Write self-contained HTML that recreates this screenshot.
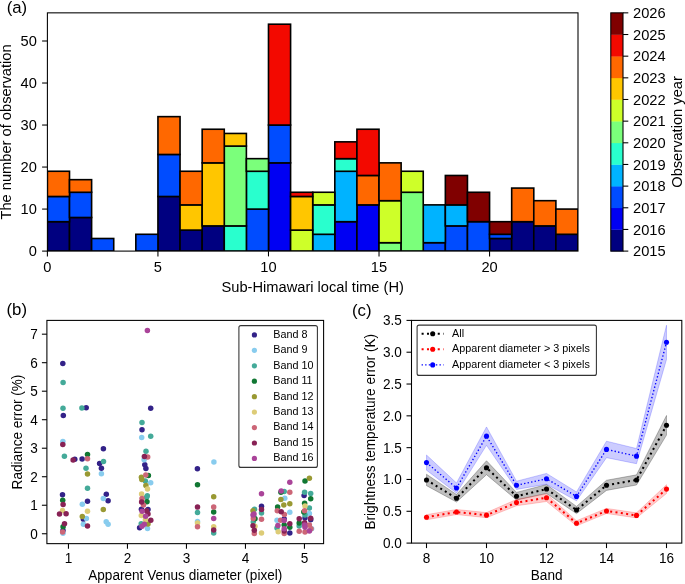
<!DOCTYPE html>
<html><head><meta charset="utf-8"><title>Figure</title>
<style>
html,body{margin:0;padding:0;background:#fff;overflow:hidden;}
svg{display:block;will-change:transform;}
text{font-family:"Liberation Sans", sans-serif;fill:#000;}
</style></head>
<body>
<svg width="685" height="584" viewBox="0 0 685 584">
<rect x="0" y="0" width="685" height="584" fill="#fff"/>
<clipPath id="clipa"><rect x="47.4" y="10.85" width="530.6" height="240.25"/></clipPath>
<g clip-path="url(#clipa)">
<rect x="47.4" y="221.69" width="22.11" height="29.41" fill="#000080" stroke="#000" stroke-width="1.6"/>
<rect x="69.51" y="217.48" width="22.11" height="33.62" fill="#000080" stroke="#000" stroke-width="1.6"/>
<rect x="157.94" y="196.47" width="22.11" height="54.63" fill="#000080" stroke="#000" stroke-width="1.6"/>
<rect x="180.05" y="230.09" width="22.11" height="21.01" fill="#000080" stroke="#000" stroke-width="1.6"/>
<rect x="202.16" y="225.89" width="22.11" height="25.21" fill="#000080" stroke="#000" stroke-width="1.6"/>
<rect x="489.57" y="238.49" width="22.11" height="12.61" fill="#000080" stroke="#000" stroke-width="1.6"/>
<rect x="511.68" y="221.69" width="22.11" height="29.41" fill="#000080" stroke="#000" stroke-width="1.6"/>
<rect x="533.78" y="225.89" width="22.11" height="25.21" fill="#000080" stroke="#000" stroke-width="1.6"/>
<rect x="555.89" y="234.29" width="22.11" height="16.81" fill="#000080" stroke="#000" stroke-width="1.6"/>
<rect x="268.48" y="162.86" width="22.11" height="88.24" fill="#0000f3" stroke="#000" stroke-width="1.6"/>
<rect x="334.81" y="221.69" width="22.11" height="29.41" fill="#0000f3" stroke="#000" stroke-width="1.6"/>
<rect x="356.92" y="204.88" width="22.11" height="46.22" fill="#0000f3" stroke="#000" stroke-width="1.6"/>
<rect x="47.4" y="196.47" width="22.11" height="25.21" fill="#004cff" stroke="#000" stroke-width="1.6"/>
<rect x="69.51" y="192.27" width="22.11" height="25.21" fill="#004cff" stroke="#000" stroke-width="1.6"/>
<rect x="91.62" y="238.49" width="22.11" height="12.61" fill="#004cff" stroke="#000" stroke-width="1.6"/>
<rect x="135.83" y="234.29" width="22.11" height="16.81" fill="#004cff" stroke="#000" stroke-width="1.6"/>
<rect x="157.94" y="154.46" width="22.11" height="42.02" fill="#004cff" stroke="#000" stroke-width="1.6"/>
<rect x="246.38" y="209.08" width="22.11" height="42.02" fill="#004cff" stroke="#000" stroke-width="1.6"/>
<rect x="268.48" y="125.04" width="22.11" height="37.82" fill="#004cff" stroke="#000" stroke-width="1.6"/>
<rect x="423.24" y="242.7" width="22.11" height="8.4" fill="#004cff" stroke="#000" stroke-width="1.6"/>
<rect x="445.35" y="225.89" width="22.11" height="25.21" fill="#004cff" stroke="#000" stroke-width="1.6"/>
<rect x="467.46" y="221.69" width="22.11" height="29.41" fill="#004cff" stroke="#000" stroke-width="1.6"/>
<rect x="489.57" y="234.29" width="22.11" height="4.2" fill="#004cff" stroke="#000" stroke-width="1.6"/>
<rect x="312.7" y="234.29" width="22.11" height="16.81" fill="#00b3ff" stroke="#000" stroke-width="1.6"/>
<rect x="334.81" y="171.26" width="22.11" height="50.42" fill="#00b3ff" stroke="#000" stroke-width="1.6"/>
<rect x="423.24" y="204.88" width="22.11" height="37.82" fill="#00b3ff" stroke="#000" stroke-width="1.6"/>
<rect x="445.35" y="204.88" width="22.11" height="21.01" fill="#00b3ff" stroke="#000" stroke-width="1.6"/>
<rect x="224.27" y="225.89" width="22.11" height="25.21" fill="#29ffce" stroke="#000" stroke-width="1.6"/>
<rect x="246.38" y="171.26" width="22.11" height="37.82" fill="#29ffce" stroke="#000" stroke-width="1.6"/>
<rect x="312.7" y="204.88" width="22.11" height="29.41" fill="#29ffce" stroke="#000" stroke-width="1.6"/>
<rect x="334.81" y="158.66" width="22.11" height="12.61" fill="#29ffce" stroke="#000" stroke-width="1.6"/>
<rect x="224.27" y="146.05" width="22.11" height="79.84" fill="#7bff7b" stroke="#000" stroke-width="1.6"/>
<rect x="246.38" y="158.66" width="22.11" height="12.61" fill="#7bff7b" stroke="#000" stroke-width="1.6"/>
<rect x="379.02" y="242.7" width="22.11" height="8.4" fill="#7bff7b" stroke="#000" stroke-width="1.6"/>
<rect x="401.13" y="192.27" width="22.11" height="58.83" fill="#7bff7b" stroke="#000" stroke-width="1.6"/>
<rect x="290.59" y="230.09" width="22.11" height="21.01" fill="#ceff29" stroke="#000" stroke-width="1.6"/>
<rect x="312.7" y="192.27" width="22.11" height="12.61" fill="#ceff29" stroke="#000" stroke-width="1.6"/>
<rect x="379.02" y="200.68" width="22.11" height="42.02" fill="#ceff29" stroke="#000" stroke-width="1.6"/>
<rect x="401.13" y="171.26" width="22.11" height="21.01" fill="#ceff29" stroke="#000" stroke-width="1.6"/>
<rect x="180.05" y="204.88" width="22.11" height="25.21" fill="#ffc600" stroke="#000" stroke-width="1.6"/>
<rect x="202.16" y="162.86" width="22.11" height="63.03" fill="#ffc600" stroke="#000" stroke-width="1.6"/>
<rect x="224.27" y="133.45" width="22.11" height="12.61" fill="#ffc600" stroke="#000" stroke-width="1.6"/>
<rect x="290.59" y="196.47" width="22.11" height="33.62" fill="#ffc600" stroke="#000" stroke-width="1.6"/>
<rect x="47.4" y="171.26" width="22.11" height="25.21" fill="#ff6800" stroke="#000" stroke-width="1.6"/>
<rect x="69.51" y="179.67" width="22.11" height="12.61" fill="#ff6800" stroke="#000" stroke-width="1.6"/>
<rect x="157.94" y="116.64" width="22.11" height="37.82" fill="#ff6800" stroke="#000" stroke-width="1.6"/>
<rect x="180.05" y="171.26" width="22.11" height="33.62" fill="#ff6800" stroke="#000" stroke-width="1.6"/>
<rect x="202.16" y="129.24" width="22.11" height="33.62" fill="#ff6800" stroke="#000" stroke-width="1.6"/>
<rect x="356.92" y="175.47" width="22.11" height="29.41" fill="#ff6800" stroke="#000" stroke-width="1.6"/>
<rect x="379.02" y="162.86" width="22.11" height="37.82" fill="#ff6800" stroke="#000" stroke-width="1.6"/>
<rect x="511.68" y="188.07" width="22.11" height="33.62" fill="#ff6800" stroke="#000" stroke-width="1.6"/>
<rect x="533.78" y="200.68" width="22.11" height="25.21" fill="#ff6800" stroke="#000" stroke-width="1.6"/>
<rect x="555.89" y="209.08" width="22.11" height="25.21" fill="#ff6800" stroke="#000" stroke-width="1.6"/>
<rect x="268.48" y="24.2" width="22.11" height="100.85" fill="#f30900" stroke="#000" stroke-width="1.6"/>
<rect x="290.59" y="192.27" width="22.11" height="4.2" fill="#f30900" stroke="#000" stroke-width="1.6"/>
<rect x="334.81" y="141.85" width="22.11" height="16.81" fill="#f30900" stroke="#000" stroke-width="1.6"/>
<rect x="356.92" y="129.24" width="22.11" height="46.22" fill="#f30900" stroke="#000" stroke-width="1.6"/>
<rect x="445.35" y="175.47" width="22.11" height="29.41" fill="#800000" stroke="#000" stroke-width="1.6"/>
<rect x="467.46" y="192.27" width="22.11" height="29.41" fill="#800000" stroke="#000" stroke-width="1.6"/>
<rect x="489.57" y="221.69" width="22.11" height="12.61" fill="#800000" stroke="#000" stroke-width="1.6"/>
</g>
<rect x="47.4" y="12.85" width="530.6" height="238.25" fill="none" stroke="#000" stroke-width="1.07"/>
<line x1="47.4" y1="251.1" x2="47.4" y2="256.4" stroke="#000" stroke-width="1.07"/>
<text transform="translate(47.4,271.9) scale(1,1.045)" font-size="14.67" text-anchor="middle">0</text>
<line x1="157.94" y1="251.1" x2="157.94" y2="256.4" stroke="#000" stroke-width="1.07"/>
<text transform="translate(157.94,271.9) scale(1,1.045)" font-size="14.67" text-anchor="middle">5</text>
<line x1="268.48" y1="251.1" x2="268.48" y2="256.4" stroke="#000" stroke-width="1.07"/>
<text transform="translate(268.48,271.9) scale(1,1.045)" font-size="14.67" text-anchor="middle">10</text>
<line x1="379.02" y1="251.1" x2="379.02" y2="256.4" stroke="#000" stroke-width="1.07"/>
<text transform="translate(379.02,271.9) scale(1,1.045)" font-size="14.67" text-anchor="middle">15</text>
<line x1="489.57" y1="251.1" x2="489.57" y2="256.4" stroke="#000" stroke-width="1.07"/>
<text transform="translate(489.57,271.9) scale(1,1.045)" font-size="14.67" text-anchor="middle">20</text>
<line x1="42.1" y1="251.1" x2="47.4" y2="251.1" stroke="#000" stroke-width="1.07"/>
<text transform="translate(36.8,256.3) scale(1,1.045)" font-size="14.67" text-anchor="end">0</text>
<line x1="42.1" y1="209.08" x2="47.4" y2="209.08" stroke="#000" stroke-width="1.07"/>
<text transform="translate(36.8,214.28) scale(1,1.045)" font-size="14.67" text-anchor="end">10</text>
<line x1="42.1" y1="167.06" x2="47.4" y2="167.06" stroke="#000" stroke-width="1.07"/>
<text transform="translate(36.8,172.26) scale(1,1.045)" font-size="14.67" text-anchor="end">20</text>
<line x1="42.1" y1="125.04" x2="47.4" y2="125.04" stroke="#000" stroke-width="1.07"/>
<text transform="translate(36.8,130.24) scale(1,1.045)" font-size="14.67" text-anchor="end">30</text>
<line x1="42.1" y1="83.02" x2="47.4" y2="83.02" stroke="#000" stroke-width="1.07"/>
<text transform="translate(36.8,88.22) scale(1,1.045)" font-size="14.67" text-anchor="end">40</text>
<line x1="42.1" y1="41" x2="47.4" y2="41" stroke="#000" stroke-width="1.07"/>
<text transform="translate(36.8,46.2) scale(1,1.045)" font-size="14.67" text-anchor="end">50</text>
<text transform="translate(312.7,291.7) scale(1,1.015)" font-size="14.67" text-anchor="middle">Sub-Himawari local time (H)</text>
<text transform="translate(11.4,131.97) rotate(-90) scale(1,1.015)" font-size="14.67" text-anchor="middle">The number of observation</text>
<text transform="translate(6.7,12.9) scale(1,0.97)" font-size="16.8" text-anchor="start">(a)</text>
<rect x="610.8" y="229.44" width="12.2" height="21.96" fill="#000080"/>
<rect x="610.8" y="207.78" width="12.2" height="21.96" fill="#0000f3"/>
<rect x="610.8" y="186.12" width="12.2" height="21.96" fill="#004cff"/>
<rect x="610.8" y="164.46" width="12.2" height="21.96" fill="#00b3ff"/>
<rect x="610.8" y="142.8" width="12.2" height="21.96" fill="#29ffce"/>
<rect x="610.8" y="121.15" width="12.2" height="21.96" fill="#7bff7b"/>
<rect x="610.8" y="99.49" width="12.2" height="21.96" fill="#ceff29"/>
<rect x="610.8" y="77.83" width="12.2" height="21.96" fill="#ffc600"/>
<rect x="610.8" y="56.17" width="12.2" height="21.96" fill="#ff6800"/>
<rect x="610.8" y="34.51" width="12.2" height="21.96" fill="#f30900"/>
<rect x="610.8" y="12.85" width="12.2" height="21.96" fill="#800000"/>
<rect x="610.8" y="12.85" width="12.2" height="238.25" fill="none" stroke="#000" stroke-width="1.07"/>
<line x1="623" y1="251.1" x2="628.3" y2="251.1" stroke="#000" stroke-width="1.07"/>
<text transform="translate(633,256.3) scale(1,1.045)" font-size="14.67" text-anchor="start">2015</text>
<line x1="623" y1="229.44" x2="628.3" y2="229.44" stroke="#000" stroke-width="1.07"/>
<text transform="translate(633,234.64) scale(1,1.045)" font-size="14.67" text-anchor="start">2016</text>
<line x1="623" y1="207.78" x2="628.3" y2="207.78" stroke="#000" stroke-width="1.07"/>
<text transform="translate(633,212.98) scale(1,1.045)" font-size="14.67" text-anchor="start">2017</text>
<line x1="623" y1="186.12" x2="628.3" y2="186.12" stroke="#000" stroke-width="1.07"/>
<text transform="translate(633,191.32) scale(1,1.045)" font-size="14.67" text-anchor="start">2018</text>
<line x1="623" y1="164.46" x2="628.3" y2="164.46" stroke="#000" stroke-width="1.07"/>
<text transform="translate(633,169.66) scale(1,1.045)" font-size="14.67" text-anchor="start">2019</text>
<line x1="623" y1="142.8" x2="628.3" y2="142.8" stroke="#000" stroke-width="1.07"/>
<text transform="translate(633,148) scale(1,1.045)" font-size="14.67" text-anchor="start">2020</text>
<line x1="623" y1="121.15" x2="628.3" y2="121.15" stroke="#000" stroke-width="1.07"/>
<text transform="translate(633,126.35) scale(1,1.045)" font-size="14.67" text-anchor="start">2021</text>
<line x1="623" y1="99.49" x2="628.3" y2="99.49" stroke="#000" stroke-width="1.07"/>
<text transform="translate(633,104.69) scale(1,1.045)" font-size="14.67" text-anchor="start">2022</text>
<line x1="623" y1="77.83" x2="628.3" y2="77.83" stroke="#000" stroke-width="1.07"/>
<text transform="translate(633,83.03) scale(1,1.045)" font-size="14.67" text-anchor="start">2023</text>
<line x1="623" y1="56.17" x2="628.3" y2="56.17" stroke="#000" stroke-width="1.07"/>
<text transform="translate(633,61.37) scale(1,1.045)" font-size="14.67" text-anchor="start">2024</text>
<line x1="623" y1="34.51" x2="628.3" y2="34.51" stroke="#000" stroke-width="1.07"/>
<text transform="translate(633,39.71) scale(1,1.045)" font-size="14.67" text-anchor="start">2025</text>
<line x1="623" y1="12.85" x2="628.3" y2="12.85" stroke="#000" stroke-width="1.07"/>
<text transform="translate(633,18.05) scale(1,1.045)" font-size="14.67" text-anchor="start">2026</text>
<text transform="translate(681.8,131.97) rotate(-90) scale(1,1.015)" font-size="14.67" text-anchor="middle">Observation year</text>
<clipPath id="clipb"><rect x="46.9" y="320.4" width="276.70000000000005" height="223.25"/></clipPath>
<g clip-path="url(#clipb)">
<circle cx="62.8" cy="363.6" r="2.75" fill="#332288"/>
<circle cx="63.3" cy="415.4" r="2.75" fill="#332288"/>
<circle cx="62.5" cy="494.7" r="2.75" fill="#332288"/>
<circle cx="63" cy="530.6" r="2.75" fill="#332288"/>
<circle cx="86.2" cy="407.7" r="2.75" fill="#332288"/>
<circle cx="74.8" cy="459.2" r="2.75" fill="#332288"/>
<circle cx="82.1" cy="459.1" r="2.75" fill="#332288"/>
<circle cx="87.5" cy="501.2" r="2.75" fill="#332288"/>
<circle cx="83.4" cy="519.2" r="2.75" fill="#332288"/>
<circle cx="103.4" cy="448.8" r="2.75" fill="#332288"/>
<circle cx="99.6" cy="463.5" r="2.75" fill="#332288"/>
<circle cx="101.4" cy="468.3" r="2.75" fill="#332288"/>
<circle cx="106.3" cy="494.2" r="2.75" fill="#332288"/>
<circle cx="108.1" cy="500.7" r="2.75" fill="#332288"/>
<circle cx="150.7" cy="408.3" r="2.75" fill="#332288"/>
<circle cx="142" cy="429.8" r="2.75" fill="#332288"/>
<circle cx="144.8" cy="464.7" r="2.75" fill="#332288"/>
<circle cx="145.9" cy="468.5" r="2.75" fill="#332288"/>
<circle cx="141.4" cy="509.3" r="2.75" fill="#332288"/>
<circle cx="148" cy="509.6" r="2.75" fill="#332288"/>
<circle cx="139.6" cy="527.7" r="2.75" fill="#332288"/>
<circle cx="197.4" cy="468.7" r="2.75" fill="#332288"/>
<circle cx="261.5" cy="506.2" r="2.75" fill="#332288"/>
<circle cx="284.2" cy="519.1" r="2.75" fill="#332288"/>
<circle cx="289.8" cy="532.9" r="2.75" fill="#332288"/>
<circle cx="304.1" cy="495.5" r="2.75" fill="#332288"/>
<circle cx="305" cy="517.9" r="2.75" fill="#332288"/>
<circle cx="310.7" cy="519.7" r="2.75" fill="#332288"/>
<circle cx="62.9" cy="441.6" r="2.75" fill="#88CCEE"/>
<circle cx="63" cy="533.2" r="2.75" fill="#88CCEE"/>
<circle cx="82.3" cy="504.2" r="2.75" fill="#88CCEE"/>
<circle cx="86.4" cy="518.6" r="2.75" fill="#88CCEE"/>
<circle cx="83.4" cy="524.3" r="2.75" fill="#88CCEE"/>
<circle cx="101.4" cy="473.8" r="2.75" fill="#88CCEE"/>
<circle cx="103.3" cy="498.4" r="2.75" fill="#88CCEE"/>
<circle cx="106.2" cy="521.7" r="2.75" fill="#88CCEE"/>
<circle cx="108.1" cy="524.3" r="2.75" fill="#88CCEE"/>
<circle cx="141.7" cy="437.5" r="2.75" fill="#88CCEE"/>
<circle cx="144.1" cy="459.7" r="2.75" fill="#88CCEE"/>
<circle cx="150.7" cy="482.8" r="2.75" fill="#88CCEE"/>
<circle cx="147.5" cy="528.5" r="2.75" fill="#88CCEE"/>
<circle cx="213.9" cy="462" r="2.75" fill="#88CCEE"/>
<circle cx="197.5" cy="521.5" r="2.75" fill="#88CCEE"/>
<circle cx="254" cy="517" r="2.75" fill="#88CCEE"/>
<circle cx="284.8" cy="498.2" r="2.75" fill="#88CCEE"/>
<circle cx="289.8" cy="512.3" r="2.75" fill="#88CCEE"/>
<circle cx="277" cy="520.3" r="2.75" fill="#88CCEE"/>
<circle cx="309.4" cy="513.4" r="2.75" fill="#88CCEE"/>
<circle cx="311.6" cy="528.7" r="2.75" fill="#88CCEE"/>
<circle cx="63.1" cy="382.5" r="2.75" fill="#44AA99"/>
<circle cx="63" cy="408.3" r="2.75" fill="#44AA99"/>
<circle cx="64.4" cy="456.3" r="2.75" fill="#44AA99"/>
<circle cx="81.9" cy="408" r="2.75" fill="#44AA99"/>
<circle cx="86" cy="468.3" r="2.75" fill="#44AA99"/>
<circle cx="87.5" cy="488.3" r="2.75" fill="#44AA99"/>
<circle cx="103.5" cy="461.4" r="2.75" fill="#44AA99"/>
<circle cx="142" cy="422.4" r="2.75" fill="#44AA99"/>
<circle cx="150.7" cy="436.3" r="2.75" fill="#44AA99"/>
<circle cx="146" cy="451.3" r="2.75" fill="#44AA99"/>
<circle cx="145.3" cy="480.9" r="2.75" fill="#44AA99"/>
<circle cx="147.3" cy="495.7" r="2.75" fill="#44AA99"/>
<circle cx="146.6" cy="497.2" r="2.75" fill="#44AA99"/>
<circle cx="141.2" cy="523.7" r="2.75" fill="#44AA99"/>
<circle cx="197.5" cy="512.5" r="2.75" fill="#44AA99"/>
<circle cx="213.7" cy="533.1" r="2.75" fill="#44AA99"/>
<circle cx="261.5" cy="513" r="2.75" fill="#44AA99"/>
<circle cx="254.5" cy="509.3" r="2.75" fill="#44AA99"/>
<circle cx="253.3" cy="521.9" r="2.75" fill="#44AA99"/>
<circle cx="284.2" cy="491.6" r="2.75" fill="#44AA99"/>
<circle cx="277" cy="528.1" r="2.75" fill="#44AA99"/>
<circle cx="299.2" cy="526" r="2.75" fill="#44AA99"/>
<circle cx="304.6" cy="492.2" r="2.75" fill="#44AA99"/>
<circle cx="310.7" cy="493.4" r="2.75" fill="#44AA99"/>
<circle cx="309.4" cy="508.1" r="2.75" fill="#44AA99"/>
<circle cx="305" cy="515" r="2.75" fill="#44AA99"/>
<circle cx="62.7" cy="500.3" r="2.75" fill="#117733"/>
<circle cx="63.1" cy="526.8" r="2.75" fill="#117733"/>
<circle cx="87.5" cy="454.6" r="2.75" fill="#117733"/>
<circle cx="148.4" cy="475.4" r="2.75" fill="#117733"/>
<circle cx="147" cy="501.8" r="2.75" fill="#117733"/>
<circle cx="197.5" cy="484.8" r="2.75" fill="#117733"/>
<circle cx="213.7" cy="512" r="2.75" fill="#117733"/>
<circle cx="255" cy="518.8" r="2.75" fill="#117733"/>
<circle cx="280.9" cy="492.2" r="2.75" fill="#117733"/>
<circle cx="277.6" cy="506.9" r="2.75" fill="#117733"/>
<circle cx="284.2" cy="524.9" r="2.75" fill="#117733"/>
<circle cx="289.8" cy="527.3" r="2.75" fill="#117733"/>
<circle cx="299.2" cy="523" r="2.75" fill="#117733"/>
<circle cx="305" cy="481.1" r="2.75" fill="#117733"/>
<circle cx="310.7" cy="498.8" r="2.75" fill="#117733"/>
<circle cx="304.6" cy="503.3" r="2.75" fill="#117733"/>
<circle cx="303.8" cy="512" r="2.75" fill="#117733"/>
<circle cx="87.5" cy="474" r="2.75" fill="#999933"/>
<circle cx="82.3" cy="516.4" r="2.75" fill="#999933"/>
<circle cx="103.3" cy="509.6" r="2.75" fill="#999933"/>
<circle cx="141.4" cy="477.3" r="2.75" fill="#999933"/>
<circle cx="141.8" cy="479.4" r="2.75" fill="#999933"/>
<circle cx="145.9" cy="485.5" r="2.75" fill="#999933"/>
<circle cx="148" cy="523.9" r="2.75" fill="#999933"/>
<circle cx="213.7" cy="496.7" r="2.75" fill="#999933"/>
<circle cx="253" cy="510.8" r="2.75" fill="#999933"/>
<circle cx="280.9" cy="499.4" r="2.75" fill="#999933"/>
<circle cx="283.8" cy="505" r="2.75" fill="#999933"/>
<circle cx="289.8" cy="503.8" r="2.75" fill="#999933"/>
<circle cx="309.4" cy="478.2" r="2.75" fill="#999933"/>
<circle cx="62.5" cy="510.6" r="2.75" fill="#DDCC77"/>
<circle cx="87.5" cy="511.3" r="2.75" fill="#DDCC77"/>
<circle cx="147.5" cy="489.1" r="2.75" fill="#DDCC77"/>
<circle cx="141.6" cy="494.1" r="2.75" fill="#DDCC77"/>
<circle cx="141.3" cy="515.6" r="2.75" fill="#DDCC77"/>
<circle cx="145.4" cy="519.7" r="2.75" fill="#DDCC77"/>
<circle cx="197.5" cy="523.1" r="2.75" fill="#DDCC77"/>
<circle cx="213.7" cy="526.8" r="2.75" fill="#DDCC77"/>
<circle cx="261.5" cy="533.1" r="2.75" fill="#DDCC77"/>
<circle cx="255" cy="526.2" r="2.75" fill="#DDCC77"/>
<circle cx="278.2" cy="531.7" r="2.75" fill="#DDCC77"/>
<circle cx="305" cy="506" r="2.75" fill="#DDCC77"/>
<circle cx="62.6" cy="532.1" r="2.75" fill="#CC6677"/>
<circle cx="87.5" cy="458.7" r="2.75" fill="#CC6677"/>
<circle cx="147.7" cy="457.1" r="2.75" fill="#CC6677"/>
<circle cx="145.8" cy="475.1" r="2.75" fill="#CC6677"/>
<circle cx="142" cy="498.6" r="2.75" fill="#CC6677"/>
<circle cx="143.5" cy="504.9" r="2.75" fill="#CC6677"/>
<circle cx="197.5" cy="526.8" r="2.75" fill="#CC6677"/>
<circle cx="213.7" cy="507.1" r="2.75" fill="#CC6677"/>
<circle cx="261.5" cy="519.2" r="2.75" fill="#CC6677"/>
<circle cx="253.3" cy="518.5" r="2.75" fill="#CC6677"/>
<circle cx="254.3" cy="533.4" r="2.75" fill="#CC6677"/>
<circle cx="289.8" cy="492.2" r="2.75" fill="#CC6677"/>
<circle cx="277.3" cy="510.8" r="2.75" fill="#CC6677"/>
<circle cx="284.4" cy="514.6" r="2.75" fill="#CC6677"/>
<circle cx="280.6" cy="520.3" r="2.75" fill="#CC6677"/>
<circle cx="284.2" cy="533.5" r="2.75" fill="#CC6677"/>
<circle cx="299.2" cy="531.2" r="2.75" fill="#CC6677"/>
<circle cx="304.6" cy="510.8" r="2.75" fill="#CC6677"/>
<circle cx="309.4" cy="525.1" r="2.75" fill="#CC6677"/>
<circle cx="305" cy="532.1" r="2.75" fill="#CC6677"/>
<circle cx="311" cy="528.7" r="2.75" fill="#CC6677"/>
<circle cx="62.8" cy="444.4" r="2.75" fill="#882255"/>
<circle cx="63.1" cy="504.5" r="2.75" fill="#882255"/>
<circle cx="59.5" cy="514" r="2.75" fill="#882255"/>
<circle cx="66.1" cy="513.7" r="2.75" fill="#882255"/>
<circle cx="64.5" cy="523.7" r="2.75" fill="#882255"/>
<circle cx="73.1" cy="460.1" r="2.75" fill="#882255"/>
<circle cx="87.5" cy="526.1" r="2.75" fill="#882255"/>
<circle cx="144.4" cy="456.4" r="2.75" fill="#882255"/>
<circle cx="141.6" cy="502.1" r="2.75" fill="#882255"/>
<circle cx="146.6" cy="510.8" r="2.75" fill="#882255"/>
<circle cx="148" cy="514.1" r="2.75" fill="#882255"/>
<circle cx="150.8" cy="520.2" r="2.75" fill="#882255"/>
<circle cx="197.5" cy="507.1" r="2.75" fill="#882255"/>
<circle cx="213.7" cy="530.1" r="2.75" fill="#882255"/>
<circle cx="261.5" cy="509.6" r="2.75" fill="#882255"/>
<circle cx="253" cy="525.7" r="2.75" fill="#882255"/>
<circle cx="254.3" cy="530.3" r="2.75" fill="#882255"/>
<circle cx="281.2" cy="511.7" r="2.75" fill="#882255"/>
<circle cx="289.8" cy="523.7" r="2.75" fill="#882255"/>
<circle cx="284.2" cy="531.1" r="2.75" fill="#882255"/>
<circle cx="299.2" cy="518.7" r="2.75" fill="#882255"/>
<circle cx="310.7" cy="518.3" r="2.75" fill="#882255"/>
<circle cx="304.6" cy="522.7" r="2.75" fill="#882255"/>
<circle cx="147.4" cy="330.4" r="2.75" fill="#AA4499"/>
<circle cx="142.1" cy="511.2" r="2.75" fill="#AA4499"/>
<circle cx="145.6" cy="516.2" r="2.75" fill="#AA4499"/>
<circle cx="144.3" cy="524.3" r="2.75" fill="#AA4499"/>
<circle cx="142" cy="526.2" r="2.75" fill="#AA4499"/>
<circle cx="213.7" cy="518.5" r="2.75" fill="#AA4499"/>
<circle cx="261.5" cy="493.7" r="2.75" fill="#AA4499"/>
<circle cx="254" cy="513.9" r="2.75" fill="#AA4499"/>
<circle cx="253" cy="514.9" r="2.75" fill="#AA4499"/>
<circle cx="289.8" cy="482.2" r="2.75" fill="#AA4499"/>
<circle cx="281.2" cy="491" r="2.75" fill="#AA4499"/>
<circle cx="284.2" cy="520.6" r="2.75" fill="#AA4499"/>
<circle cx="277.9" cy="525.4" r="2.75" fill="#AA4499"/>
<circle cx="284.2" cy="528.7" r="2.75" fill="#AA4499"/>
<circle cx="304.6" cy="525.1" r="2.75" fill="#AA4499"/>
<circle cx="305" cy="527.3" r="2.75" fill="#AA4499"/>
<circle cx="309.4" cy="530.9" r="2.75" fill="#AA4499"/>
</g>
<rect x="46.9" y="320.4" width="276.7" height="223.25" fill="none" stroke="#000" stroke-width="1.07"/>
<line x1="68.45" y1="543.65" x2="68.45" y2="548.65" stroke="#000" stroke-width="1.07"/>
<text transform="translate(68.45,563.3) scale(1,1.045)" font-size="13.6" text-anchor="middle">1</text>
<line x1="127.45" y1="543.65" x2="127.45" y2="548.65" stroke="#000" stroke-width="1.07"/>
<text transform="translate(127.45,563.3) scale(1,1.045)" font-size="13.6" text-anchor="middle">2</text>
<line x1="186.45" y1="543.65" x2="186.45" y2="548.65" stroke="#000" stroke-width="1.07"/>
<text transform="translate(186.45,563.3) scale(1,1.045)" font-size="13.6" text-anchor="middle">3</text>
<line x1="245.45" y1="543.65" x2="245.45" y2="548.65" stroke="#000" stroke-width="1.07"/>
<text transform="translate(245.45,563.3) scale(1,1.045)" font-size="13.6" text-anchor="middle">4</text>
<line x1="304.45" y1="543.65" x2="304.45" y2="548.65" stroke="#000" stroke-width="1.07"/>
<text transform="translate(304.45,563.3) scale(1,1.045)" font-size="13.6" text-anchor="middle">5</text>
<line x1="41.9" y1="533.75" x2="46.9" y2="533.75" stroke="#000" stroke-width="1.07"/>
<text transform="translate(37.9,538.75) scale(1,1.045)" font-size="13.6" text-anchor="end">0</text>
<line x1="41.9" y1="505.24" x2="46.9" y2="505.24" stroke="#000" stroke-width="1.07"/>
<text transform="translate(37.9,510.24) scale(1,1.045)" font-size="13.6" text-anchor="end">1</text>
<line x1="41.9" y1="476.73" x2="46.9" y2="476.73" stroke="#000" stroke-width="1.07"/>
<text transform="translate(37.9,481.73) scale(1,1.045)" font-size="13.6" text-anchor="end">2</text>
<line x1="41.9" y1="448.22" x2="46.9" y2="448.22" stroke="#000" stroke-width="1.07"/>
<text transform="translate(37.9,453.22) scale(1,1.045)" font-size="13.6" text-anchor="end">3</text>
<line x1="41.9" y1="419.71" x2="46.9" y2="419.71" stroke="#000" stroke-width="1.07"/>
<text transform="translate(37.9,424.71) scale(1,1.045)" font-size="13.6" text-anchor="end">4</text>
<line x1="41.9" y1="391.2" x2="46.9" y2="391.2" stroke="#000" stroke-width="1.07"/>
<text transform="translate(37.9,396.2) scale(1,1.045)" font-size="13.6" text-anchor="end">5</text>
<line x1="41.9" y1="362.69" x2="46.9" y2="362.69" stroke="#000" stroke-width="1.07"/>
<text transform="translate(37.9,367.69) scale(1,1.045)" font-size="13.6" text-anchor="end">6</text>
<line x1="41.9" y1="334.18" x2="46.9" y2="334.18" stroke="#000" stroke-width="1.07"/>
<text transform="translate(37.9,339.18) scale(1,1.045)" font-size="13.6" text-anchor="end">7</text>
<text transform="translate(185.25,580.3) scale(1,1.015)" font-size="13.6" text-anchor="middle">Apparent Venus diameter (pixel)</text>
<text transform="translate(21.7,432.02) rotate(-90) scale(1,1.015)" font-size="13.6" text-anchor="middle">Radiance error (%)</text>
<text transform="translate(6.5,315.3) scale(1,0.97)" font-size="16.8" text-anchor="start">(b)</text>
<rect x="238.9" y="325.6" width="78.5" height="141.8" rx="2" fill="#fff" fill-opacity="0.8" stroke="#000" stroke-opacity="0.8" stroke-width="1.07"/>
<circle cx="254.4" cy="334.9" r="2.6" fill="#332288"/>
<text transform="translate(273.2,337.8) scale(1,1.015)" font-size="10.8" text-anchor="start">Band 8</text>
<circle cx="254.4" cy="350.34" r="2.6" fill="#88CCEE"/>
<text transform="translate(273.2,353.24) scale(1,1.015)" font-size="10.8" text-anchor="start">Band 9</text>
<circle cx="254.4" cy="365.78" r="2.6" fill="#44AA99"/>
<text transform="translate(273.2,368.68) scale(1,1.015)" font-size="10.8" text-anchor="start">Band 10</text>
<circle cx="254.4" cy="381.22" r="2.6" fill="#117733"/>
<text transform="translate(273.2,384.12) scale(1,1.015)" font-size="10.8" text-anchor="start">Band 11</text>
<circle cx="254.4" cy="396.66" r="2.6" fill="#999933"/>
<text transform="translate(273.2,399.56) scale(1,1.015)" font-size="10.8" text-anchor="start">Band 12</text>
<circle cx="254.4" cy="412.1" r="2.6" fill="#DDCC77"/>
<text transform="translate(273.2,415) scale(1,1.015)" font-size="10.8" text-anchor="start">Band 13</text>
<circle cx="254.4" cy="427.54" r="2.6" fill="#CC6677"/>
<text transform="translate(273.2,430.44) scale(1,1.015)" font-size="10.8" text-anchor="start">Band 14</text>
<circle cx="254.4" cy="442.98" r="2.6" fill="#882255"/>
<text transform="translate(273.2,445.88) scale(1,1.015)" font-size="10.8" text-anchor="start">Band 15</text>
<circle cx="254.4" cy="458.42" r="2.6" fill="#AA4499"/>
<text transform="translate(273.2,461.32) scale(1,1.015)" font-size="10.8" text-anchor="start">Band 16</text>
<clipPath id="clipc"><rect x="411.5" y="320.4" width="270.29999999999995" height="222.70000000000005"/></clipPath>
<g clip-path="url(#clipc)">
<polygon points="426.5,474.24 456.5,494.49 486.5,460.75 516.5,492.4 546.5,484.55 576.5,506.39 606.5,480.25 636.5,474.87 666.5,415.49 666.5,435.12 636.5,485 606.5,490.38 576.5,513.61 546.5,493.42 516.5,500 486.5,474.68 456.5,502.09 426.5,485.63" fill="#000" fill-opacity="0.25" stroke="#000" stroke-opacity="0.25" stroke-width="1"/>
<polyline points="426.5,479.93 456.5,498.29 486.5,467.72 516.5,496.2 546.5,488.98 576.5,510 606.5,485.31 636.5,479.93 666.5,425.31" fill="none" stroke="#000" stroke-width="2.03" stroke-dasharray="2.03,3.35"/>
<circle cx="426.5" cy="479.93" r="2.55" fill="#000"/>
<circle cx="456.5" cy="498.29" r="2.55" fill="#000"/>
<circle cx="486.5" cy="467.72" r="2.55" fill="#000"/>
<circle cx="516.5" cy="496.2" r="2.55" fill="#000"/>
<circle cx="546.5" cy="488.98" r="2.55" fill="#000"/>
<circle cx="576.5" cy="510" r="2.55" fill="#000"/>
<circle cx="606.5" cy="485.31" r="2.55" fill="#000"/>
<circle cx="636.5" cy="479.93" r="2.55" fill="#000"/>
<circle cx="666.5" cy="425.31" r="2.55" fill="#000"/>
<polygon points="426.5,514.68 456.5,509.49 486.5,512.6 516.5,499.43 546.5,493.92 576.5,520.76 606.5,508.42 636.5,512.85 666.5,484.68 666.5,493.54 636.5,517.91 606.5,513.48 576.5,525.83 546.5,501.52 516.5,505.76 486.5,517.66 456.5,514.56 426.5,519.75" fill="#ff0000" fill-opacity="0.2" stroke="#ff0000" stroke-opacity="0.2" stroke-width="1"/>
<polyline points="426.5,517.22 456.5,512.03 486.5,515.13 516.5,502.59 546.5,497.72 576.5,523.29 606.5,510.95 636.5,515.38 666.5,489.11" fill="none" stroke="#ff0000" stroke-width="2.03" stroke-dasharray="2.03,3.35"/>
<circle cx="426.5" cy="517.22" r="2.55" fill="#ff0000"/>
<circle cx="456.5" cy="512.03" r="2.55" fill="#ff0000"/>
<circle cx="486.5" cy="515.13" r="2.55" fill="#ff0000"/>
<circle cx="516.5" cy="502.59" r="2.55" fill="#ff0000"/>
<circle cx="546.5" cy="497.72" r="2.55" fill="#ff0000"/>
<circle cx="576.5" cy="523.29" r="2.55" fill="#ff0000"/>
<circle cx="606.5" cy="510.95" r="2.55" fill="#ff0000"/>
<circle cx="636.5" cy="515.38" r="2.55" fill="#ff0000"/>
<circle cx="666.5" cy="489.11" r="2.55" fill="#ff0000"/>
<polygon points="426.5,454.99 456.5,482.97 486.5,426.95 516.5,481.2 546.5,473.41 576.5,491.96 606.5,441.19 636.5,448.54 666.5,325.23 666.5,359.41 636.5,463.73 606.5,457.65 576.5,500.82 546.5,484.17 516.5,489.43 486.5,445.31 456.5,493.1 426.5,470.18" fill="#0000ff" fill-opacity="0.2" stroke="#0000ff" stroke-opacity="0.2" stroke-width="1"/>
<polyline points="426.5,462.59 456.5,488.04 486.5,436.13 516.5,485.31 546.5,478.79 576.5,496.39 606.5,449.42 636.5,456.13 666.5,342.32" fill="none" stroke="#0000ff" stroke-width="1.35" stroke-dasharray="1.35,2.23"/>
<circle cx="426.5" cy="462.59" r="2.55" fill="#0000ff"/>
<circle cx="456.5" cy="488.04" r="2.55" fill="#0000ff"/>
<circle cx="486.5" cy="436.13" r="2.55" fill="#0000ff"/>
<circle cx="516.5" cy="485.31" r="2.55" fill="#0000ff"/>
<circle cx="546.5" cy="478.79" r="2.55" fill="#0000ff"/>
<circle cx="576.5" cy="496.39" r="2.55" fill="#0000ff"/>
<circle cx="606.5" cy="449.42" r="2.55" fill="#0000ff"/>
<circle cx="636.5" cy="456.13" r="2.55" fill="#0000ff"/>
<circle cx="666.5" cy="342.32" r="2.55" fill="#0000ff"/>
</g>
<rect x="411.5" y="320.4" width="270.3" height="222.7" fill="none" stroke="#000" stroke-width="1.07"/>
<line x1="426.5" y1="543.1" x2="426.5" y2="548.1" stroke="#000" stroke-width="1.07"/>
<text transform="translate(426.5,562.6) scale(1,1.045)" font-size="13.6" text-anchor="middle">8</text>
<line x1="486.5" y1="543.1" x2="486.5" y2="548.1" stroke="#000" stroke-width="1.07"/>
<text transform="translate(486.5,562.6) scale(1,1.045)" font-size="13.6" text-anchor="middle">10</text>
<line x1="546.5" y1="543.1" x2="546.5" y2="548.1" stroke="#000" stroke-width="1.07"/>
<text transform="translate(546.5,562.6) scale(1,1.045)" font-size="13.6" text-anchor="middle">12</text>
<line x1="606.5" y1="543.1" x2="606.5" y2="548.1" stroke="#000" stroke-width="1.07"/>
<text transform="translate(606.5,562.6) scale(1,1.045)" font-size="13.6" text-anchor="middle">14</text>
<line x1="666.5" y1="543.1" x2="666.5" y2="548.1" stroke="#000" stroke-width="1.07"/>
<text transform="translate(666.5,562.6) scale(1,1.045)" font-size="13.6" text-anchor="middle">16</text>
<line x1="406.5" y1="543.1" x2="411.5" y2="543.1" stroke="#000" stroke-width="1.07"/>
<text transform="translate(401.8,548.1) scale(1,1.045)" font-size="13.6" text-anchor="end">0.0</text>
<line x1="406.5" y1="511.29" x2="411.5" y2="511.29" stroke="#000" stroke-width="1.07"/>
<text transform="translate(401.8,516.29) scale(1,1.045)" font-size="13.6" text-anchor="end">0.5</text>
<line x1="406.5" y1="479.47" x2="411.5" y2="479.47" stroke="#000" stroke-width="1.07"/>
<text transform="translate(401.8,484.47) scale(1,1.045)" font-size="13.6" text-anchor="end">1.0</text>
<line x1="406.5" y1="447.66" x2="411.5" y2="447.66" stroke="#000" stroke-width="1.07"/>
<text transform="translate(401.8,452.66) scale(1,1.045)" font-size="13.6" text-anchor="end">1.5</text>
<line x1="406.5" y1="415.84" x2="411.5" y2="415.84" stroke="#000" stroke-width="1.07"/>
<text transform="translate(401.8,420.84) scale(1,1.045)" font-size="13.6" text-anchor="end">2.0</text>
<line x1="406.5" y1="384.03" x2="411.5" y2="384.03" stroke="#000" stroke-width="1.07"/>
<text transform="translate(401.8,389.03) scale(1,1.045)" font-size="13.6" text-anchor="end">2.5</text>
<line x1="406.5" y1="352.21" x2="411.5" y2="352.21" stroke="#000" stroke-width="1.07"/>
<text transform="translate(401.8,357.21) scale(1,1.045)" font-size="13.6" text-anchor="end">3.0</text>
<line x1="406.5" y1="320.4" x2="411.5" y2="320.4" stroke="#000" stroke-width="1.07"/>
<text transform="translate(401.8,325.4) scale(1,1.045)" font-size="13.6" text-anchor="end">3.5</text>
<text transform="translate(546.65,580.2) scale(1,1.015)" font-size="13.6" text-anchor="middle">Band</text>
<text transform="translate(374.8,431.75) rotate(-90) scale(1,1.015)" font-size="13.6" text-anchor="middle">Brightness temperature error (K)</text>
<text transform="translate(351.9,315.5) scale(1,0.97)" font-size="16.8" text-anchor="start">(c)</text>
<rect x="417.1" y="325.1" width="179.3" height="50.3" rx="2" fill="#fff" fill-opacity="0.8" stroke="#000" stroke-opacity="0.8" stroke-width="1.07"/>
<line x1="421.6" y1="333.7" x2="443.6" y2="333.7" stroke="#000" stroke-width="2.03" stroke-dasharray="2.03,3.35"/>
<circle cx="432.7" cy="333.7" r="2.55" fill="#000"/>
<text transform="translate(452.1,336.7) scale(1,1.015)" font-size="10.8" text-anchor="start">All</text>
<line x1="421.6" y1="349.3" x2="443.6" y2="349.3" stroke="#ff0000" stroke-width="2.03" stroke-dasharray="2.03,3.35"/>
<circle cx="432.7" cy="349.3" r="2.55" fill="#ff0000"/>
<text transform="translate(452.1,352.3) scale(1,1.015)" font-size="10.8" text-anchor="start">Apparent diameter &gt; 3 pixels</text>
<line x1="421.6" y1="364.9" x2="443.6" y2="364.9" stroke="#0000ff" stroke-width="1.35" stroke-dasharray="1.35,2.23"/>
<circle cx="432.7" cy="364.9" r="2.55" fill="#0000ff"/>
<text transform="translate(452.1,367.9) scale(1,1.015)" font-size="10.8" text-anchor="start">Apparent diameter &lt; 3 pixels</text>
</svg>
</body></html>
